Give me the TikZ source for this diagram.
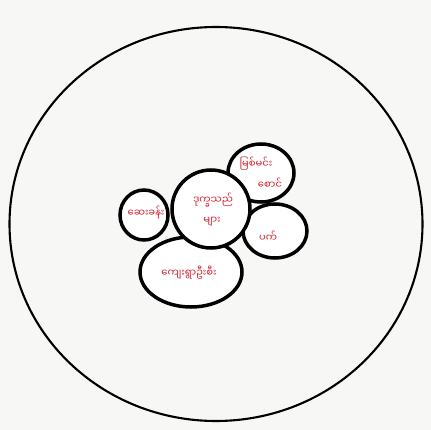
\documentclass[tikz,border=0pt]{standalone}
\usepackage{fontspec}
\newfontfamily\mmfont[Script=Myanmar]{Noto Sans Myanmar UI}
\usetikzlibrary{shapes.geometric}
\definecolor{inkred}{HTML}{D2202E}
\definecolor{paper}{HTML}{F7F7F5}
\tikzset{
  blob/.style={ellipse, draw=black, line width=3.5pt, fill=white, inner sep=0pt},
  lbl/.style={text=inkred, font=\mmfont\fontsize{10}{12}\selectfont, inner sep=0pt, align=center}
}
\begin{document}
\begin{tikzpicture}[x=1pt,y=-1pt]
\fill[paper] (0,0) rectangle (431,430);
\useasboundingbox (0,0) rectangle (431,430);
\node[ellipse, draw=black, line width=2.1pt, minimum width=413, minimum height=394, inner sep=0pt] (outer) at (216,224) {};
\node[blob, minimum width=66, minimum height=58] (river) at (261,173) {};
\node[blob, minimum width=64, minimum height=54] (right) at (275,231) {};
\node[blob, minimum width=102, minimum height=70] (bottom) at (191,272) {};
\node[blob, minimum width=48, minimum height=50] (left) at (144,215) {};
\node[blob, minimum width=78, minimum height=78] (center) at (211,209) {};
\node[lbl] (t1) at (256,164) {မြစ်မင်း};
\node[lbl] (t2) at (270,183) {စောင်};
\node[lbl] (t3) at (213,200) {ဒုက္ခသည်};
\node[lbl] (t4) at (212,222) {များ};
\node[lbl] (t5) at (146,213) {ဆေးခန်း};
\node[lbl] (t6) at (268,236) {ပက်};
\node[lbl] (t7) at (189,273) {ကျေးရွာဦးစီး};
\end{tikzpicture}
\end{document}
